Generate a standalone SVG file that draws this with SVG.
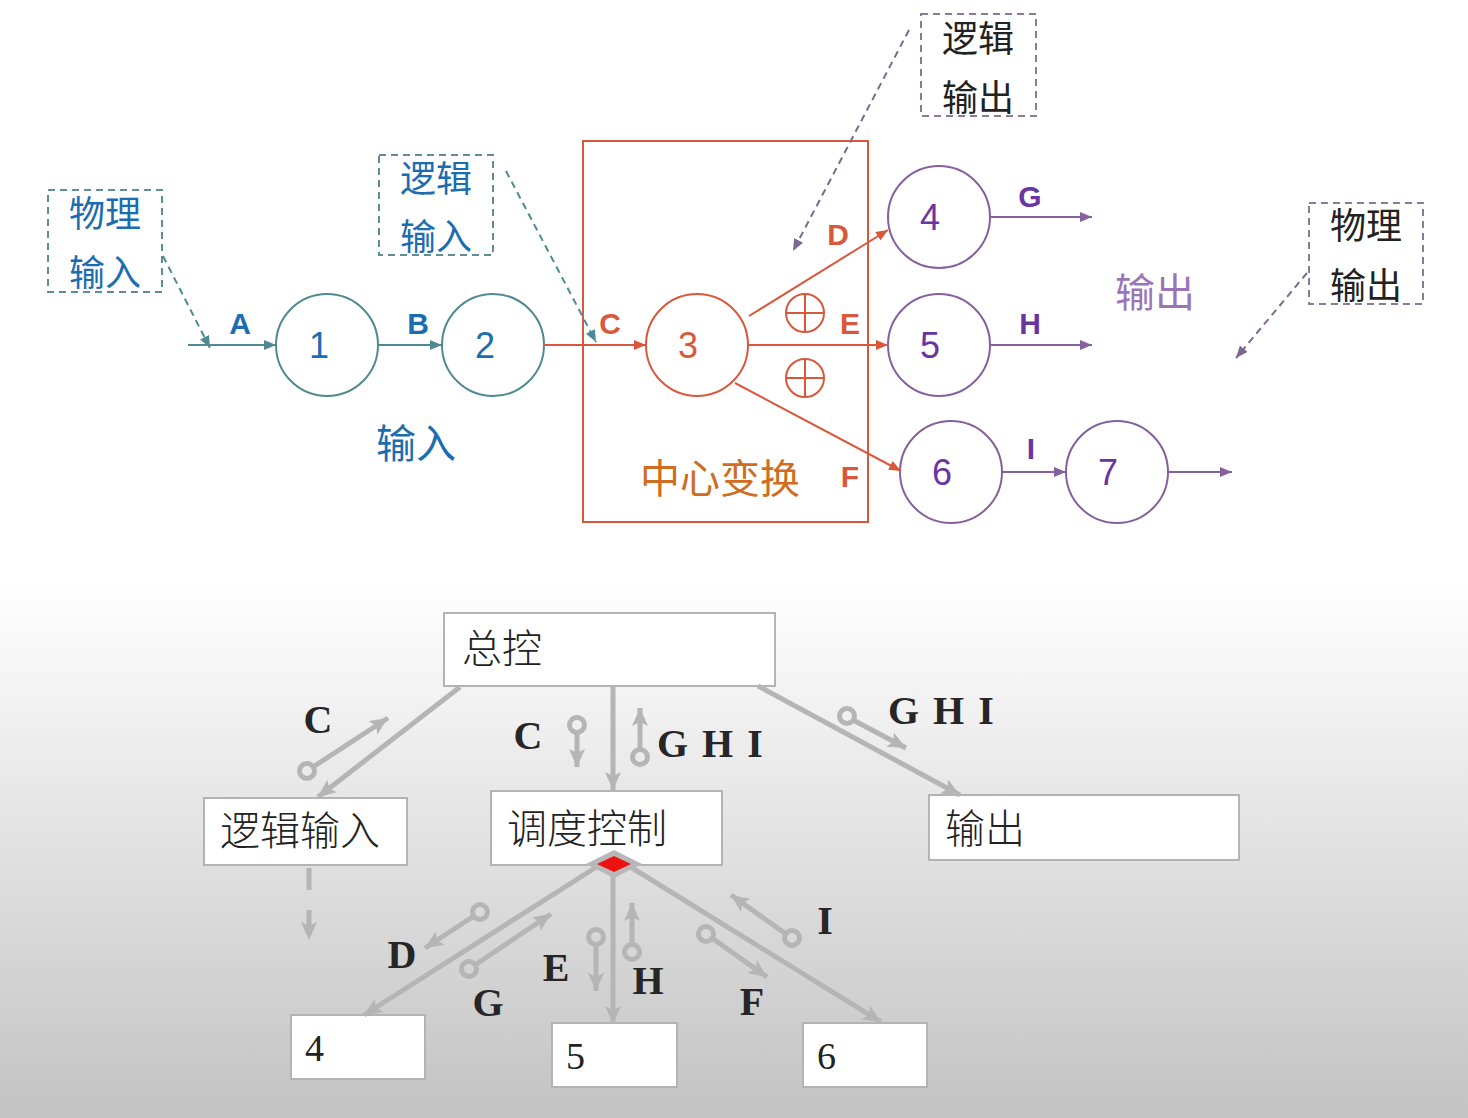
<svg xmlns="http://www.w3.org/2000/svg" width="1468" height="1118" viewBox="0 0 1468 1118">
<defs>
  <linearGradient id="bg" x1="0" y1="0" x2="0" y2="1">
    <stop offset="0" stop-color="#ffffff"/>
    <stop offset="0.52" stop-color="#ffffff"/>
    <stop offset="1" stop-color="#c3c3c3"/>
  </linearGradient>
  <marker id="aTeal" viewBox="0 0 12 10" refX="12" refY="5" markerWidth="12" markerHeight="10" markerUnits="userSpaceOnUse" orient="auto"><path d="M0,0 L12,5 L0,10 Z" fill="#4E8A92"/></marker>
  <marker id="aRed" viewBox="0 0 12 10" refX="12" refY="5" markerWidth="12" markerHeight="10" markerUnits="userSpaceOnUse" orient="auto"><path d="M0,0 L12,5 L0,10 Z" fill="#D9583B"/></marker>
  <marker id="aPur" viewBox="0 0 12 10" refX="12" refY="5" markerWidth="12" markerHeight="10" markerUnits="userSpaceOnUse" orient="auto"><path d="M0,0 L12,5 L0,10 Z" fill="#84609E"/></marker>
  <marker id="aPurG" viewBox="0 0 12 10" refX="12" refY="5" markerWidth="12" markerHeight="10" markerUnits="userSpaceOnUse" orient="auto"><path d="M0,0 L12,5 L0,10 Z" fill="#7A6A92"/></marker>
  <marker id="aGray" viewBox="0 0 18 16" refX="18" refY="8" markerWidth="18" markerHeight="16" markerUnits="userSpaceOnUse" orient="auto"><path d="M0,0 L18,8 L0,16 L4,8 Z" fill="#b5b5b5"/></marker>
  <marker id="aGraySm" viewBox="0 0 18 16" refX="18" refY="8" markerWidth="18" markerHeight="16" markerUnits="userSpaceOnUse" orient="auto"><path d="M0,0 L18,8 L0,16 L4,8 Z" fill="#b5b5b5"/></marker>
</defs>
<style>
  .cjk{font-family:"Noto Sans CJK SC","Noto Sans",sans-serif;}
  .lat{font-family:"Liberation Sans",Arial,sans-serif;}
  .ser{font-family:"Liberation Serif","Times New Roman",serif;font-weight:bold;fill:#262626;font-size:40px;}
  .num{font-family:"Liberation Serif","Times New Roman",serif;font-weight:normal;fill:#222;font-size:38px;}
  .bcjk{font-family:"Noto Sans CJK SC",sans-serif;font-weight:300;fill:#222;font-size:40px;}
  .teal{stroke:#4E8A92;stroke-width:2;fill:none;}
  .red{stroke:#D9583B;stroke-width:2;fill:none;}
  .pur{stroke:#84609E;stroke-width:2;fill:none;}
  .dbox{fill:none;stroke-width:2;stroke-dasharray:7,5;}
  .box{fill:#ffffff;stroke:#b3b3b3;stroke-width:2;}
  .gl{stroke:#b5b5b5;stroke-width:5;fill:none;}
  .gs{stroke:#b5b5b5;stroke-width:5;fill:none;}
  .ring{stroke:#b5b5b5;stroke-width:5;fill:none;}
</style>
<rect x="0" y="0" width="1468" height="1118" fill="url(#bg)"/>

<!-- ===== Top: data flow ===== -->
<g id="note-phys-in">
  <rect x="48" y="190" width="114" height="102" class="dbox" stroke="#5E8E92"/>
  <text x="105" y="227" class="cjk" font-size="36" fill="#1B6DB0" text-anchor="middle">物理</text>
  <text x="105" y="286" class="cjk" font-size="36" fill="#1B6DB0" text-anchor="middle">输入</text>
</g>
<g id="note-log-in">
  <rect x="379" y="155" width="114" height="100" class="dbox" stroke="#5E8E92"/>
  <text x="436" y="192" class="cjk" font-size="36" fill="#1B6DB0" text-anchor="middle">逻辑</text>
  <text x="436" y="250" class="cjk" font-size="36" fill="#1B6DB0" text-anchor="middle">输入</text>
</g>
<g id="note-log-out">
  <rect x="921" y="14" width="115" height="102" class="dbox" stroke="#8A7A9A"/>
  <text x="978" y="52" class="cjk" font-size="36" fill="#222" text-anchor="middle">逻辑</text>
  <text x="978" y="111" class="cjk" font-size="36" fill="#222" text-anchor="middle">输出</text>
</g>
<g id="note-phys-out">
  <rect x="1309" y="203" width="114" height="101" class="dbox" stroke="#8A7A9A"/>
  <text x="1366" y="239" class="cjk" font-size="36" fill="#222" text-anchor="middle">物理</text>
  <text x="1366" y="299" class="cjk" font-size="36" fill="#222" text-anchor="middle">输出</text>
</g>
<g id="center-box">
  <rect x="583" y="141" width="285" height="381" class="red" stroke-width="1.8"/>
  <text x="720" y="493" class="cjk" font-size="40" fill="#CF6D22" text-anchor="middle">中心变换</text>
</g>
<g id="label-in"><text x="416" y="458" class="cjk" font-size="40" fill="#1B6DB0" text-anchor="middle">输入</text></g>
<g id="label-out"><text x="1155" y="307" class="cjk" font-size="40" fill="#9B74B7" text-anchor="middle">输出</text></g>

<g id="c1"><circle cx="327" cy="345" r="51" class="teal"/><text x="319" y="358" class="lat" font-size="36" fill="#1B6DB0" text-anchor="middle">1</text></g>
<g id="c2"><circle cx="493" cy="345" r="51" class="teal"/><text x="485" y="358" class="lat" font-size="36" fill="#1B6DB0" text-anchor="middle">2</text></g>
<g id="c3"><circle cx="697" cy="345" r="51" class="red"/><text x="688" y="358" class="lat" font-size="36" fill="#D9583B" text-anchor="middle">3</text></g>
<g id="c4"><circle cx="939" cy="217" r="51" class="pur"/><text x="930" y="230" class="lat" font-size="36" fill="#6A35A0" text-anchor="middle">4</text></g>
<g id="c5"><circle cx="939" cy="345" r="51" class="pur"/><text x="930" y="358" class="lat" font-size="36" fill="#6A35A0" text-anchor="middle">5</text></g>
<g id="c6"><circle cx="951" cy="472" r="51" class="pur"/><text x="942" y="485" class="lat" font-size="36" fill="#6A35A0" text-anchor="middle">6</text></g>
<g id="c7"><circle cx="1117" cy="472" r="51" class="pur"/><text x="1108" y="485" class="lat" font-size="36" fill="#6A35A0" text-anchor="middle">7</text></g>

<g id="xor1" class="red" stroke-width="1.8"><circle cx="805" cy="313" r="19"/><line x1="786" y1="313" x2="824" y2="313"/><line x1="805" y1="294" x2="805" y2="332"/></g>
<g id="xor2" class="red" stroke-width="1.8"><circle cx="805" cy="378" r="19"/><line x1="786" y1="378" x2="824" y2="378"/><line x1="805" y1="359" x2="805" y2="397"/></g>

<g id="top-connectors">
  <line x1="188" y1="345" x2="276" y2="345" class="teal" marker-end="url(#aTeal)"/>
  <line x1="378" y1="345" x2="442" y2="345" class="teal" marker-end="url(#aTeal)"/>
  <line x1="544" y1="345" x2="646" y2="345" class="red" marker-end="url(#aRed)"/>
  <line x1="749" y1="316" x2="888" y2="230" class="red" marker-end="url(#aRed)"/>
  <line x1="748" y1="345" x2="888" y2="345" class="red" marker-end="url(#aRed)"/>
  <line x1="735" y1="383" x2="901" y2="471" class="red" marker-end="url(#aRed)"/>
  <line x1="990" y1="217" x2="1092" y2="217" class="pur" marker-end="url(#aPur)"/>
  <line x1="990" y1="345" x2="1092" y2="345" class="pur" marker-end="url(#aPur)"/>
  <line x1="1002" y1="472" x2="1066" y2="472" class="pur" marker-end="url(#aPur)"/>
  <line x1="1168" y1="472" x2="1232" y2="472" class="pur" marker-end="url(#aPur)"/>
  <line x1="163" y1="256" x2="210" y2="348" stroke="#4E8A92" stroke-width="2" stroke-dasharray="7,5" marker-end="url(#aTeal)"/>
  <line x1="506" y1="171" x2="596" y2="342" stroke="#4E8A92" stroke-width="2" stroke-dasharray="7,5" marker-end="url(#aTeal)"/>
  <line x1="909" y1="30" x2="793" y2="251" stroke="#7A6A92" stroke-width="2" stroke-dasharray="7,5" marker-end="url(#aPurG)"/>
  <line x1="1307" y1="273" x2="1236" y2="358" stroke="#7A6A92" stroke-width="2" stroke-dasharray="7,5" marker-end="url(#aPurG)"/>
  <g class="lat" font-weight="bold" font-size="30" text-anchor="middle">
    <text x="240" y="334" fill="#1B6DB0">A</text>
    <text x="418" y="334" fill="#1B6DB0">B</text>
    <text x="610" y="334" fill="#D9583B">C</text>
    <text x="838" y="245" fill="#D9583B">D</text>
    <text x="850" y="334" fill="#D9583B">E</text>
    <text x="850" y="487" fill="#D9583B">F</text>
    <text x="1030" y="207" fill="#6A35A0">G</text>
    <text x="1030" y="334" fill="#6A35A0">H</text>
    <text x="1031" y="459" fill="#6A35A0">I</text>
  </g>
</g>

<!-- ===== Bottom: structure chart ===== -->
<g id="n-main"><rect x="444" y="613" width="331" height="73" class="box"/><text x="462" y="663" class="bcjk" font-size="34">总控</text></g>
<g id="n-login"><rect x="204" y="798" width="203" height="67" class="box"/><text x="220" y="845" class="bcjk">逻辑输入</text></g>
<g id="n-dispatch"><rect x="491" y="791" width="231" height="74" class="box"/><text x="507" y="843" class="bcjk">调度控制</text></g>
<g id="n-out"><rect x="929" y="795" width="310" height="65" class="box"/><text x="945" y="843" class="bcjk">输出</text></g>
<g id="n4"><rect x="291" y="1015" width="134" height="64" class="box"/><text x="305" y="1061" class="num">4</text></g>
<g id="n5"><rect x="552" y="1023" width="125" height="64" class="box"/><text x="566" y="1069" class="num">5</text></g>
<g id="n6"><rect x="803" y="1023" width="124" height="64" class="box"/><text x="817" y="1069" class="num">6</text></g>

<g id="bottom-connectors">
  <line x1="460" y1="687" x2="318" y2="797" class="gl" marker-end="url(#aGray)"/>
  <line x1="613" y1="687" x2="613" y2="790" class="gl" marker-end="url(#aGray)"/>
  <line x1="758" y1="686" x2="960" y2="795" class="gl" marker-end="url(#aGray)"/>
  <line x1="598" y1="866" x2="364" y2="1015" class="gl" marker-end="url(#aGray)"/>
  <line x1="613" y1="870" x2="613" y2="1024" class="gl" marker-end="url(#aGray)"/>
  <line x1="629" y1="866" x2="881" y2="1022" class="gl" marker-end="url(#aGray)"/>
  <line x1="309" y1="868" x2="309" y2="940" class="gs" stroke-dasharray="22,20" marker-end="url(#aGraySm)"/>
  <!-- couples -->
  <circle cx="307" cy="771" r="7.5" class="ring"/><line x1="313" y1="767" x2="388" y2="718" class="gs" marker-end="url(#aGraySm)"/>
  <circle cx="577" cy="725" r="7.5" class="ring"/><line x1="577" y1="732" x2="577" y2="767" class="gs" marker-end="url(#aGraySm)"/>
  <circle cx="640" cy="757" r="7.5" class="ring"/><line x1="640" y1="750" x2="640" y2="708" class="gs" marker-end="url(#aGraySm)"/>
  <circle cx="847" cy="716" r="7.5" class="ring"/><line x1="853" y1="720" x2="906" y2="748" class="gs" marker-end="url(#aGraySm)"/>
  <circle cx="480" cy="912" r="7.5" class="ring"/><line x1="474" y1="916" x2="425" y2="948" class="gs" marker-end="url(#aGraySm)"/>
  <circle cx="469" cy="969" r="7.5" class="ring"/><line x1="475" y1="965" x2="551" y2="914" class="gs" marker-end="url(#aGraySm)"/>
  <circle cx="596" cy="937" r="7.5" class="ring"/><line x1="596" y1="944" x2="596" y2="991" class="gs" marker-end="url(#aGraySm)"/>
  <circle cx="632" cy="952" r="7.5" class="ring"/><line x1="632" y1="945" x2="632" y2="903" class="gs" marker-end="url(#aGraySm)"/>
  <circle cx="706" cy="934" r="7.5" class="ring"/><line x1="712" y1="938" x2="767" y2="977" class="gs" marker-end="url(#aGraySm)"/>
  <circle cx="792" cy="938" r="7.5" class="ring"/><line x1="786" y1="934" x2="731" y2="895" class="gs" marker-end="url(#aGraySm)"/>
  <g class="ser">
    <text x="318" y="733" text-anchor="middle">C</text>
    <text x="528" y="749" text-anchor="middle">C</text>
    <text x="657" y="757" letter-spacing="2">G H I</text>
    <text x="888" y="724" letter-spacing="2">G H I</text>
    <text x="402" y="968" text-anchor="middle">D</text>
    <text x="488" y="1016" text-anchor="middle">G</text>
    <text x="556" y="981" text-anchor="middle">E</text>
    <text x="648" y="994" text-anchor="middle">H</text>
    <text x="752" y="1015" text-anchor="middle">F</text>
    <text x="825" y="934" text-anchor="middle">I</text>
  </g>
</g>
<g id="diamond">
  <path d="M614,850 L642,864 L614,878 L586,864 Z" fill="#b8b8b8"/>
  <path d="M614,856 L631,864 L614,872 L597,864 Z" fill="#ee1111"/>
</g>
</svg>
